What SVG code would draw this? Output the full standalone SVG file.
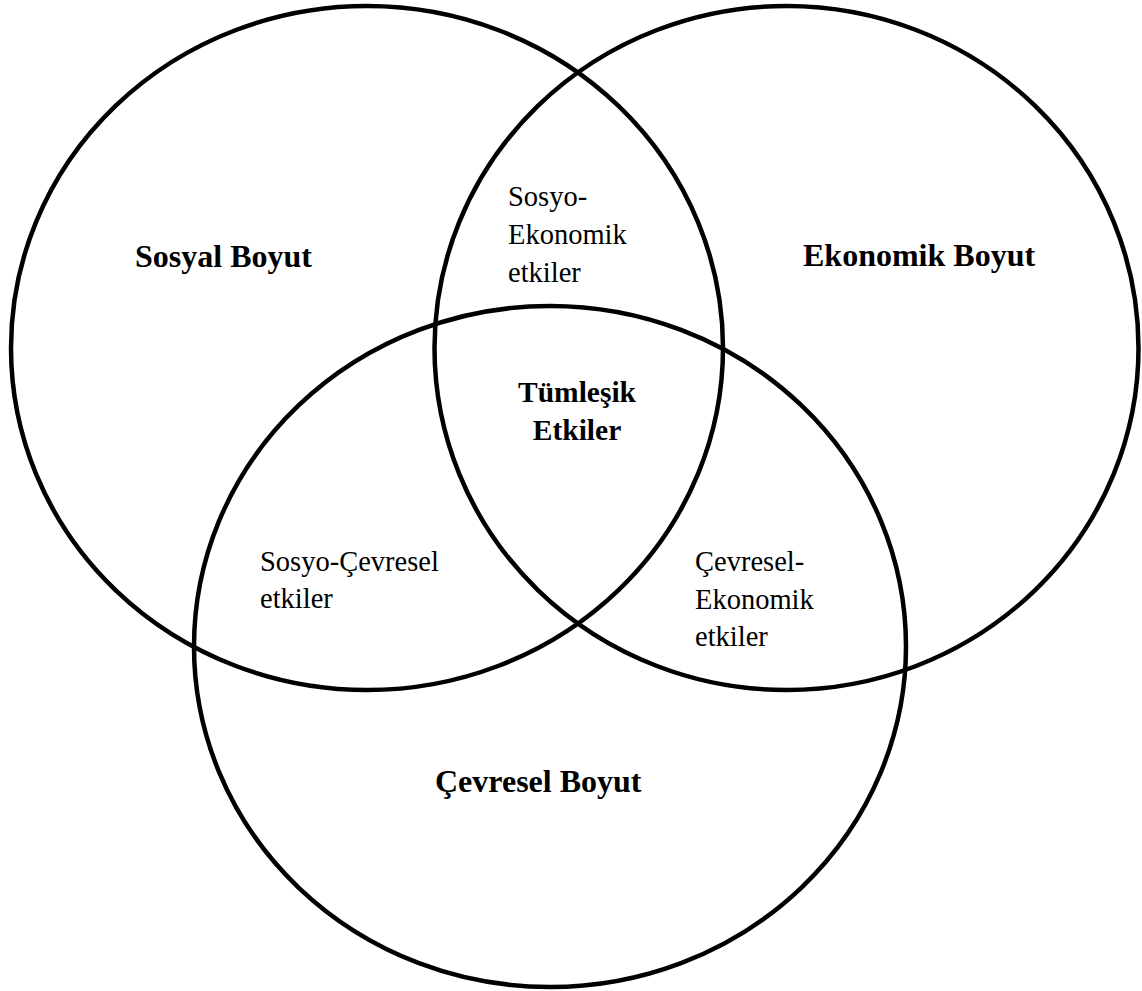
<svg xmlns="http://www.w3.org/2000/svg" width="1142" height="991" viewBox="0 0 1142 991">
<style>
.c{fill:none;stroke:#000;stroke-width:4.5}
.b{font-family:"Liberation Serif","Times New Roman",serif;font-weight:bold;fill:#000}
.r{font-family:"Liberation Serif","Times New Roman",serif;font-weight:normal;font-size:28.5px;fill:#000}
</style>
<rect width="1142" height="991" fill="#fff"/>
<g id="sosyal">
<ellipse class="c" cx="367" cy="348" rx="356" ry="342"/>
<text class="b" x="135" y="267" font-size="32">Sosyal Boyut</text>
</g>
<g id="ekonomik">
<ellipse class="c" cx="786.5" cy="348" rx="352" ry="342"/>
<text class="b" x="803" y="266" font-size="32">Ekonomik Boyut</text>
</g>
<g id="cevresel">
<ellipse class="c" cx="550" cy="646.5" rx="356" ry="340.5"/>
<text class="b" x="435" y="792" font-size="32">Çevresel Boyut</text>
</g>
<g id="sosyo-ekonomik">
<text class="r" x="508" y="206">Sosyo-</text>
<text class="r" x="508" y="244">Ekonomik</text>
<text class="r" x="508" y="282">etkiler</text>
</g>
<g id="tumlesik">
<text class="b" x="577" y="402" font-size="29.5" text-anchor="middle">Tümleşik</text>
<text class="b" x="577" y="440" font-size="29.5" text-anchor="middle">Etkiler</text>
</g>
<g id="sosyo-cevresel">
<text class="r" x="260" y="571">Sosyo-Çevresel</text>
<text class="r" x="260" y="608">etkiler</text>
</g>
<g id="cevresel-ekonomik">
<text class="r" x="695" y="571">Çevresel-</text>
<text class="r" x="695" y="609">Ekonomik</text>
<text class="r" x="695" y="646">etkiler</text>
</g>
<g id="connectors"></g>
</svg>
